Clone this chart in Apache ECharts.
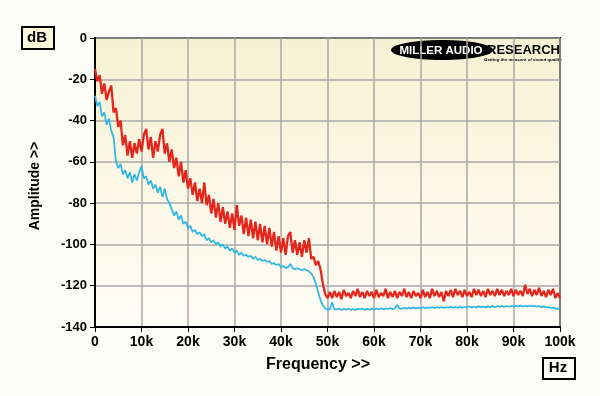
<!DOCTYPE html>
<html>
<head>
<meta charset="utf-8">
<script src="https://cdn.jsdelivr.net/npm/echarts@6/dist/echarts.min.js"></script>
<style>
html,body{margin:0;padding:0;background:#fdfdf8;}
#chart{width:600px;height:396px;}
</style>
</head>
<body>
<div id="chart"></div>
<script>
// Frequency sampling points (kHz)
const freqK = [
0,0.5,1,1.5,2,2.5,3,3.5,4,4.5,
5,5.5,6,6.5,7,7.5,8,8.5,9,9.5,
10,10.5,11,11.5,12,12.5,13,13.5,14,14.5,
15,15.5,16,16.5,17,17.5,18,18.5,19,19.5,
20,20.5,21,21.5,22,22.5,23,23.5,24,24.5,
25,25.5,26,26.5,27,27.5,28,28.5,29,29.5,
30,30.5,31,31.5,32,32.5,33,33.5,34,34.5,
35,35.5,36,36.5,37,37.5,38,38.5,39,39.5,
40,40.5,41,41.5,42,42.5,43,43.5,44,44.5,
45,45.5,46,46.5,47,47.5,48,48.5,49,49.5,
50,50.5,51,51.5,52,52.5,53,53.5,54,54.5,
55,55.5,56,56.5,57,57.5,58,58.5,59,59.5,
60,60.5,61,61.5,62,62.5,63,63.5,64,64.5,
65,65.5,66,66.5,67,67.5,68,68.5,69,69.5,
70,70.5,71,71.5,72,72.5,73,73.5,74,74.5,
75,75.5,76,76.5,77,77.5,78,78.5,79,79.5,
80,80.5,81,81.5,82,82.5,83,83.5,84,84.5,
85,85.5,86,86.5,87,87.5,88,88.5,89,89.5,
90,90.5,91,91.5,92,92.5,93,93.5,94,94.5,
95,95.5,96,96.5,97,97.5,98,98.5,99,99.5,
100];

// Red trace (dB)
const redDb = [
-15,-21,-18,-27,-22,-30,-26,-23,-36,-34,
-43,-40,-52,-47,-57,-50,-58,-51,-56,-49,
-55,-47,-44,-54,-48,-58,-50,-55,-47,-44,
-56,-51,-60,-54,-63,-58,-67,-60,-70,-64,
-73,-68,-76,-70,-79,-73,-80,-70,-81,-76,
-85,-78,-87,-80,-89,-82,-90,-84,-92,-85,
-93,-81,-91,-86,-95,-87,-96,-88,-97,-89,
-98,-90,-99,-91,-100,-92,-101,-94,-103,-96,
-104,-97,-105,-96,-94,-104,-98,-105,-99,-106,
-98,-104,-97,-107,-106,-110,-108,-112,-119,-124,
-126,-123,-126,-122.5,-125.5,-123,-126.5,-122,-125,-123.5,
-126,-122.5,-125,-121.5,-125.5,-123,-126,-122.5,-125,-123,
-126,-122,-125.5,-123.5,-125,-121.5,-126,-123,-125.5,-122.5,
-126,-123,-125,-121.5,-125.5,-123,-126,-122.5,-125,-123.5,
-126,-122,-125.5,-123,-126,-121.5,-125,-122.5,-125.5,-123,
-127.5,-122.5,-125,-122,-125.5,-121.5,-124.5,-122.5,-125.5,-122,
-125,-123,-125.5,-121.5,-124.5,-122,-125,-122.5,-125.5,-121.5,
-124.5,-122.5,-125,-121.5,-124.5,-122,-125,-122.5,-124.5,-121.5,
-125,-122,-124.5,-122.5,-125,-119.5,-124,-121.5,-125,-122,
-124.5,-121,-125,-122.5,-125.5,-122,-124.5,-121.5,-126,-123.5,
-126];

// Blue trace (dB)
const blueDb = [
-28,-33,-31,-38,-36,-42,-39,-45,-48,-60,
-63,-61,-66,-64,-68,-65,-70,-66,-69,-65,
-62,-68,-67,-71,-69,-73,-71,-75,-72,-77,
-73,-78,-80,-83,-86,-84,-88,-86,-90,-89,
-92,-91,-94,-93,-95,-94,-96,-95,-98,-97,
-99,-98,-100,-99,-101,-100,-102,-101,-103,-102,
-104,-103,-105,-104,-105.5,-105,-106,-105.5,-107,-106,
-107.5,-107,-108,-107.5,-108.5,-108,-109.5,-109,-110,-109.5,
-111,-110.5,-111.5,-111,-109.5,-111.5,-112,-111.5,-112,-112.5,
-112,-112.5,-113,-114,-116,-119,-123,-127,-129.5,-131,
-131.5,-131.5,-128,-131.5,-131.5,-131,-131.8,-131.2,-131.6,-131,
-131.7,-131.3,-131.8,-131.2,-131.5,-131,-131.7,-131.2,-131.6,-131.1,
-131.5,-131,-131.4,-130.9,-131.5,-131,-131.3,-130.8,-131.4,-130.9,
-129.3,-131,-131.2,-130.7,-131.1,-130.6,-131,-130.5,-131,-130.6,
-130.9,-130.4,-130.9,-130.5,-130.8,-130.3,-130.8,-130.4,-130.7,-130.3,
-130.8,-130.4,-130.7,-130.2,-130.6,-130.3,-130.7,-130.2,-130.6,-130.3,
-130.5,-130.1,-130.6,-130.2,-130.5,-130,-130.4,-130.1,-130.5,-130,
-130.4,-129.9,-130.3,-129.9,-130.2,-129.8,-130.3,-129.8,-130.2,-129.7,
-130.1,-129.7,-130,-129.6,-130.1,-129.7,-130,-129.6,-130.1,-129.7,
-130.2,-129.8,-130.4,-130,-130.6,-130.3,-130.8,-130.6,-131.1,-131,
-131.5];

const xTicksK = [0,10,20,30,40,50,60,70,80,90,100];
const yTicksDb = [0,-20,-40,-60,-80,-100,-120,-140];

const FONT = '"Liberation Sans", Arial, sans-serif';
const pairs = (ys) => freqK.slice(0, ys.length).map((f, i) => [f, ys[i]]);

const chart = echarts.init(document.getElementById('chart'), null, {renderer: 'canvas'});
chart.setOption({
  backgroundColor: '#fdfdf8',
  animation: false,
  grid: {
    left: 95, right: 40, top: 38, bottom: 69,
    show: true,
    borderColor: '#000', borderWidth: 2,
    backgroundColor: new echarts.graphic.LinearGradient(0, 0, 0, 1, [
      {offset: 0, color: '#f7f1d3'},
      {offset: 1, color: '#fefdf6'}
    ])
  },
  xAxis: {
    type: 'value',
    min: xTicksK[0], max: xTicksK[xTicksK.length - 1], interval: 10,
    axisLine: {show: true, onZero: false, lineStyle: {color: '#000', width: 2}},
    axisTick: {show: true, length: 5, lineStyle: {color: '#000', width: 1}},
    axisLabel: {
      color: '#000', fontFamily: FONT, fontWeight: 'bold', fontSize: 14, margin: 8,
      formatter: v => v === 0 ? '0' : v + 'k'
    },
    splitLine: {show: true, lineStyle: {color: '#a9a9a9', width: 1.5}}
  },
  yAxis: {
    type: 'value',
    min: yTicksDb[yTicksDb.length - 1], max: yTicksDb[0], interval: 20,
    axisLine: {show: true, onZero: false, lineStyle: {color: '#000', width: 2}},
    axisTick: {show: true, length: 5, lineStyle: {color: '#000', width: 1}},
    axisLabel: {color: '#000', fontFamily: FONT, fontWeight: 'bold', fontSize: 13, margin: 8},
    splitLine: {show: true, lineStyle: {color: '#a9a9a9', width: 1.5}}
  },
  series: [
    {
      type: 'line', name: 'blue', data: pairs(blueDb), showSymbol: false, symbol: 'none',
      lineStyle: {color: '#2bb6e6', width: 1.7}, z: 2
    },
    {
      type: 'line', name: 'red', data: pairs(redDb), showSymbol: false, symbol: 'none',
      lineStyle: {color: '#e4261c', width: 2.3}, z: 3
    }
  ],
  graphic: [
    {type: 'rect', left: 21, top: 26, shape: {width: 32, height: 22},
     style: {fill: '#fbf7d9', stroke: '#000', lineWidth: 2}},
    {type: 'text', x: 37, y: 38,
     style: {text: 'dB', font: 'bold 15px ' + FONT, fill: '#000', align: 'center', verticalAlign: 'middle'}},
    {type: 'rect', left: 542, top: 357, shape: {width: 32, height: 21},
     style: {fill: '#fdfdf8', stroke: '#000', lineWidth: 2}},
    {type: 'text', x: 558, y: 368,
     style: {text: 'Hz', font: 'bold 15px ' + FONT, fill: '#000', align: 'center', verticalAlign: 'middle'}},
    {type: 'text', x: 318, y: 365,
     style: {text: 'Frequency >>', font: 'bold 16px ' + FONT, fill: '#000', align: 'center', verticalAlign: 'middle'}},
    {type: 'text', x: 35, y: 186, rotation: Math.PI / 2,
     style: {text: 'Amplitude >>', font: 'bold 14px ' + FONT, fill: '#000', align: 'center', verticalAlign: 'middle'}},
    {type: 'ellipse', shape: {cx: 442, cy: 50, rx: 51, ry: 10}, style: {fill: '#000'}},
    {type: 'text', x: 441, y: 50.5,
     style: {text: 'MILLER AUDIO', font: 'bold 11.5px ' + FONT, fill: '#fff', align: 'center', verticalAlign: 'middle'}},
    {type: 'text', x: 487, y: 50,
     style: {text: 'RESEARCH', font: 'bold 13px ' + FONT, fill: '#000', align: 'left', verticalAlign: 'middle'}},
    {type: 'text', x: 484, y: 60,
     style: {text: 'Getting the measure of sound quality', font: 'italic bold 4.4px ' + FONT, fill: '#000', align: 'left', verticalAlign: 'middle'}}
  ].concat((freqK.length !== redDb.length || freqK.length !== blueDb.length) ?
    [{type: 'text', x: 200, y: 200, style: {text: 'LEN ' + freqK.length + ' ' + redDb.length + ' ' + blueDb.length, fill: 'red', font: '20px sans-serif'}}] : [])
});
</script>
</body>
</html>
